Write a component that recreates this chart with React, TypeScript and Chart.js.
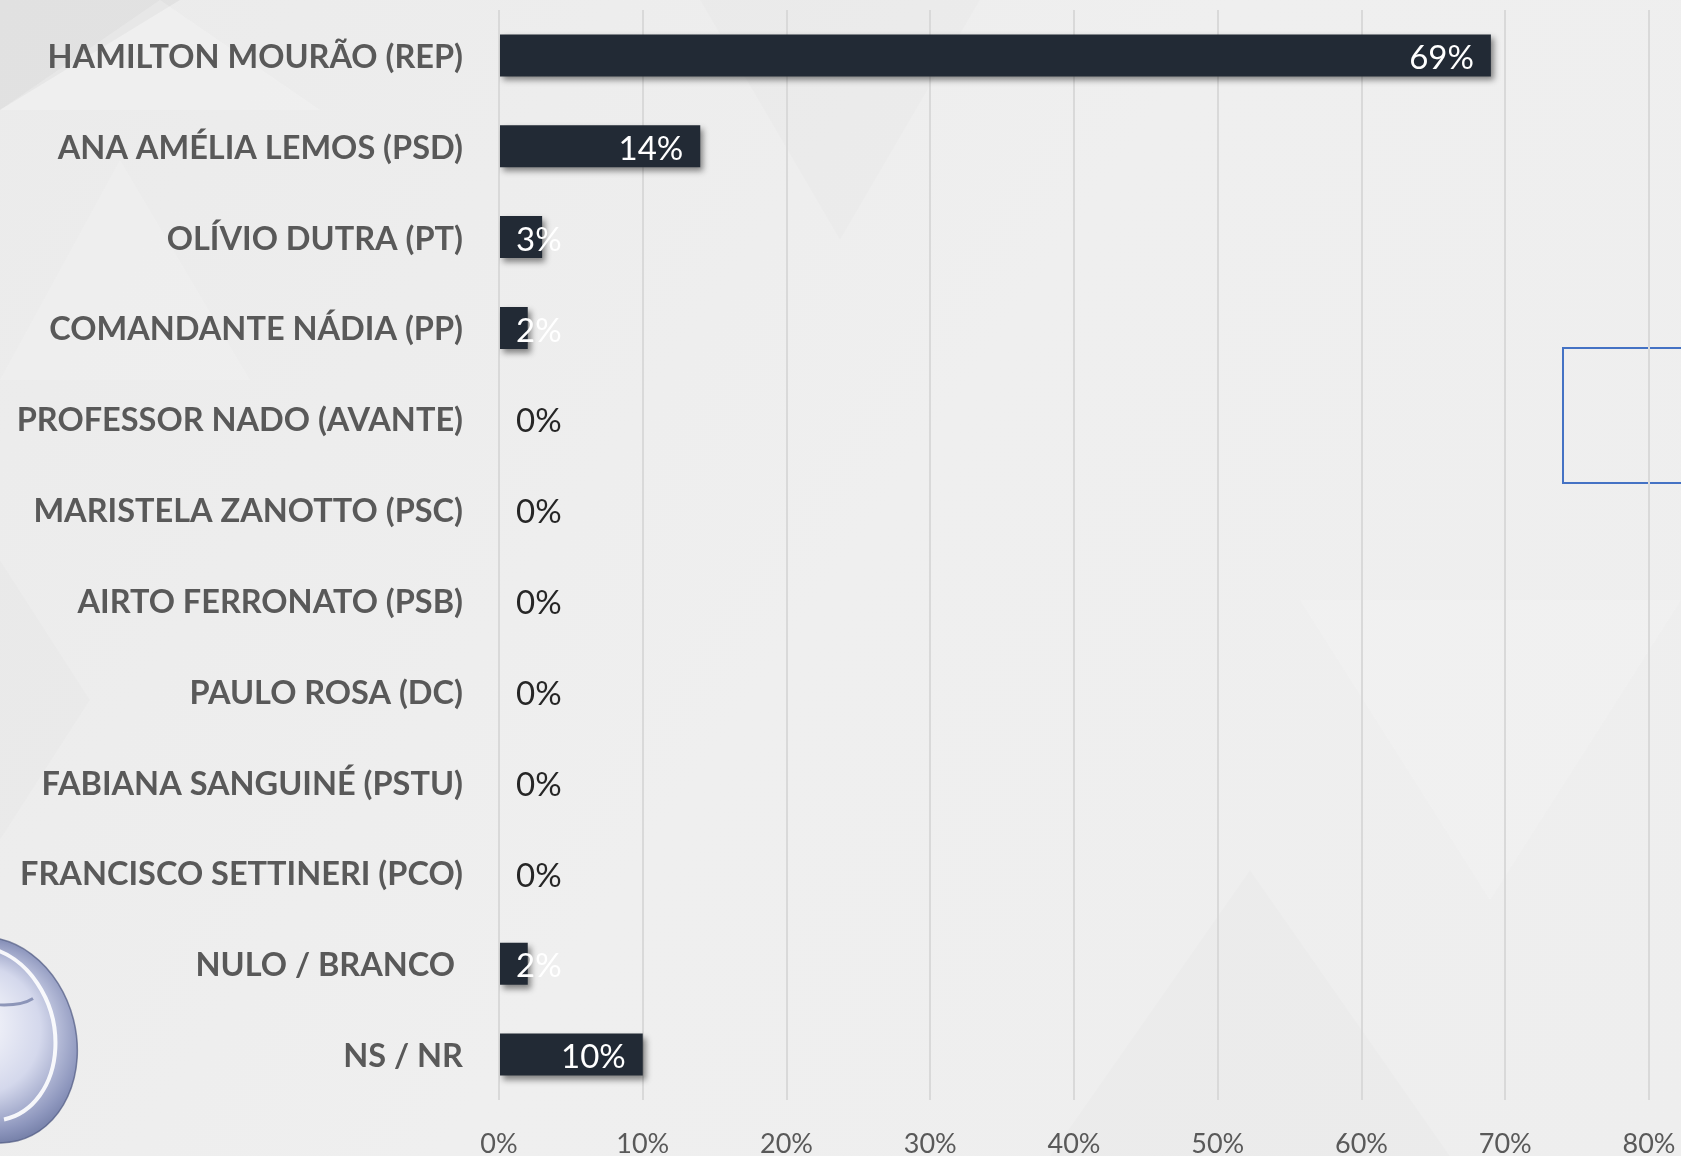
import React, { useEffect, useRef } from "react";
import { Chart, registerables } from "chart.js";

Chart.register(...registerables);

const categories = [
  "HAMILTON MOURÃO (REP)",
  "ANA AMÉLIA LEMOS (PSD)",
  "OLÍVIO DUTRA (PT)",
  "COMANDANTE NÁDIA (PP)",
  "PROFESSOR NADO (AVANTE)",
  "MARISTELA ZANOTTO (PSC)",
  "AIRTO FERRONATO (PSB)",
  "PAULO ROSA (DC)",
  "FABIANA SANGUINÉ (PSTU)",
  "FRANCISCO SETTINERI (PCO)",
  "NULO / BRANCO ",
  "NS / NR",
];
const values = [69, 14, 3, 2, 0, 0, 0, 0, 0, 0, 2, 10];
const xMin = 0;
const xMax = 80;
const xStep = 10;

const BAR_COLOR = "#222a35";
const LABEL_FONT = "Lato, 'Open Sans', sans-serif";

const backgroundPlugin = {
  id: "bgDecor",
  beforeDraw(chart: any) {
    const { ctx, width, height } = chart;
    ctx.save();
    const g = ctx.createLinearGradient(0, 0, width, height);
    g.addColorStop(0, "#ebebeb");
    g.addColorStop(0.5, "#efefef");
    g.addColorStop(1, "#eeeeee");
    ctx.fillStyle = g;
    ctx.fillRect(0, 0, width, height);
    const polys: [number, number][][] = [
      [[0, 0], [180, 0], [0, 110]],
      [[0, 110], [320, 110], [160, 0]],
      [[0, 380], [250, 380], [120, 160]],
      [[700, 0], [980, 0], [840, 240]],
      [[1250, 870], [1450, 1156], [1050, 1156]],
      [[1300, 600], [1681, 600], [1490, 900]],
      [[0, 560], [90, 700], [0, 840]],
    ];
    const fills = [
      "rgba(0,0,0,0.04)",
      "rgba(255,255,255,0.2)",
      "rgba(255,255,255,0.15)",
      "rgba(0,0,0,0.01)",
      "rgba(0,0,0,0.012)",
      "rgba(255,255,255,0.15)",
      "rgba(0,0,0,0.012)",
    ];
    polys.forEach((p, i) => {
      ctx.beginPath();
      ctx.moveTo(p[0][0], p[0][1]);
      for (let k = 1; k < p.length; k++) ctx.lineTo(p[k][0], p[k][1]);
      ctx.closePath();
      ctx.fillStyle = fills[i];
      ctx.fill();
    });
    // blue outlined rectangle at right
    ctx.strokeStyle = "#4472c4";
    ctx.lineWidth = 2;
    ctx.strokeRect(1563, 348, 140, 135);
    // logo sphere bottom-left
    ctx.save();
    ctx.translate(-8, 1040);
    ctx.rotate(-0.25);
    ctx.beginPath();
    ctx.ellipse(0, 0, 84, 104, 0, 0, Math.PI * 2);
    const rg = ctx.createRadialGradient(-30, -30, 10, 0, 0, 110);
    rg.addColorStop(0, "#ffffff");
    rg.addColorStop(0.55, "#d4d8ec");
    rg.addColorStop(0.85, "#8d96bd");
    rg.addColorStop(1, "#6b769f");
    ctx.fillStyle = rg;
    ctx.fill();
    ctx.strokeStyle = "rgba(80,90,130,0.7)";
    ctx.lineWidth = 1.5;
    ctx.stroke();
    ctx.beginPath();
    ctx.ellipse(-6, -8, 70, 88, 0, -1.2, 1.6);
    ctx.strokeStyle = "rgba(255,255,255,0.9)";
    ctx.lineWidth = 4;
    ctx.stroke();
    ctx.beginPath();
    ctx.moveTo(-60, -70);
    ctx.quadraticCurveTo(20, -20, 50, -30);
    ctx.strokeStyle = "rgba(120,130,170,0.8)";
    ctx.lineWidth = 3;
    ctx.stroke();
    ctx.restore();
    ctx.restore();
  },
  beforeDatasetsDraw(chart: any) {
    const ctx = chart.ctx;
    ctx.save();
    ctx.shadowColor = "rgba(0,0,0,0.45)";
    ctx.shadowBlur = 6;
    ctx.shadowOffsetX = 3;
    ctx.shadowOffsetY = 4;
  },
  afterDatasetsDraw(chart: any) {
    const ctx = chart.ctx;
    ctx.restore();
    const meta = chart.getDatasetMeta(0);
    const xs = chart.scales.x;
    const x0 = xs.getPixelForValue(0);
    ctx.save();
    ctx.font = `33px ${LABEL_FONT}`;
    ctx.textBaseline = "middle";
    ctx.textAlign = "right";
    meta.data.forEach((bar: any, i: number) => {
      const v = values[i];
      const text = `${v}%`;
      const w = ctx.measureText(text).width;
      const end = xs.getPixelForValue(v);
      const right = Math.max(end - 17, x0 + 17 + w);
      ctx.fillStyle = v === 0 ? "#262626" : "#ffffff";
      ctx.fillText(text, right, bar.y + 3);
    });
    ctx.restore();
  },
};

export default function App() {
  const ref = useRef<HTMLCanvasElement | null>(null);
  useEffect(() => {
    if (!ref.current) return;
    const chart: any = new Chart(ref.current, {
      type: "bar",
      data: {
        labels: categories,
        datasets: [
          {
            data: values,
            backgroundColor: BAR_COLOR,
            borderWidth: 0,
            barPercentage: 0.462,
            categoryPercentage: 1,
          },
        ],
      },
      options: {
        indexAxis: "y",
        animation: false,
        responsive: false,
        maintainAspectRatio: false,
        layout: { padding: { left: 0, right: 32, top: 10, bottom: 0 } },
        plugins: {
          legend: { display: false },
          tooltip: { enabled: false },
          title: { display: false },
        },
        scales: {
          x: {
            type: "linear",
            min: xMin,
            max: xMax,
            position: "bottom",
            grid: { color: "#d9d9d9", lineWidth: 2, drawTicks: false },
            border: { display: false },
            ticks: {
              stepSize: xStep,
              padding: 28,
              color: "#595959",
              font: { family: LABEL_FONT, size: 27 },
              callback: (v: any) => `${v}%`,
            },
            afterFit: (s: any) => {
              s.height = 56;
              s.paddingLeft = 0;
              s.paddingRight = 0;
            },
          },
          y: {
            type: "category",
            grid: { display: false, drawTicks: false },
            border: { display: false },
            ticks: {
              padding: 36,
              labelOffset: 2,
              color: "#595959",
              font: { family: LABEL_FONT, size: 32.5, weight: "bold" },
              autoSkip: false,
            },
            afterFit: (s: any) => {
              s.width = 499;
              s.paddingTop = 0;
              s.paddingBottom = 0;
            },
          },
        },
      },
      plugins: [backgroundPlugin],
    });
    return () => chart.destroy();
  }, []);
  return (
    <div style={{ position: "absolute", left: 0, top: 0, width: 1681, height: 1156 }}>
      <canvas ref={ref} width={1681} height={1156} style={{ display: "block" }} />
    </div>
  );
}
